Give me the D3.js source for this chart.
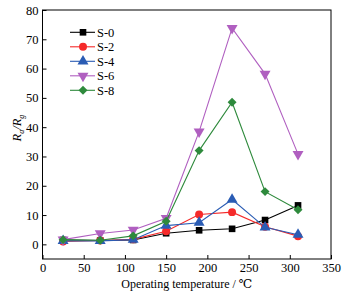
<!DOCTYPE html>
<html lang="en">
<head>
<meta charset="UTF-8">
<title>Response vs temperature</title>
<script src="https://cdn.jsdelivr.net/npm/d3@7"></script>
<style>
	body { margin: 0; background: #fff; }
	svg text { font-family: "Liberation Serif", "DejaVu Serif", "Times New Roman", serif; }
</style>
</head>
<body>
<div id="chart"></div>
<script>
var temps = [25, 70, 110, 150, 190, 230, 270, 310];
var seriesNames = ['S-0', 'S-2', 'S-4', 'S-6', 'S-8'];
var s0 = [1.5, 1.3, 1.5, 3.8, 4.8, 5.3, 8.3, 13.3];
var s2 = [1.0, 1.3, 1.7, 4.5, 10.2, 11.0, 6.0, 2.8];
var s4 = [1.2, 1.2, 1.6, 6.4, 7.4, 15.3, 5.8, 3.3];
var s6 = [1.6, 3.7, 4.9, 8.9, 38.5, 73.8, 58.2, 30.8];
var s8 = [1.6, 1.4, 2.9, 7.9, 32.0, 48.5, 18.0, 11.8];
var xTicks = [0, 50, 100, 150, 200, 250, 300, 350];
var yTicks = [0, 10, 20, 30, 40, 50, 60, 70, 80];

var colors = ['#000000', '#f52a2a', '#2a5cb4', '#b05fc0', '#2e8a3c'];
// diamond = square turned 45 degrees
var symbols = [d3.symbolSquare, d3.symbolCircle, d3.symbolTriangle, d3.symbolTriangle, d3.symbolSquare];
var sizes = [44, 50, 52, 52, 40];
var rotations = [0, 0, 0, 180, 45];
var allSeries = [s0, s2, s4, s6, s8];

var W = 348, H = 299;
var margin = {top: 10, left: 42.5, right: 17, bottom: 40};

var svg = d3.select('#chart').append('svg')
	.attr('width', W).attr('height', H);

var x = d3.scaleLinear().domain([0, 350]).range([margin.left, W - margin.right]);
var y = d3.scaleLinear().domain([-5, 80]).range([H - margin.bottom, margin.top]);

// frame
svg.append('rect')
	.attr('x', x(0)).attr('y', y(80))
	.attr('width', x(350) - x(0)).attr('height', y(-5) - y(80))
	.attr('fill', 'none').attr('stroke', '#000').attr('stroke-width', 1);

var gx = svg.append('g')
	.attr('transform', 'translate(0,' + y(-5) + ')')
	.call(d3.axisBottom(x).tickValues(xTicks).tickSizeInner(-4).tickSizeOuter(0).tickPadding(4));
var gy = svg.append('g')
	.attr('transform', 'translate(' + x(0) + ',0)')
	.call(d3.axisLeft(y).tickValues(yTicks).tickSizeInner(-4).tickSizeOuter(0).tickPadding(4));

[gx, gy].forEach(function (g) {
	g.attr('font-family', null);
	g.select('.domain').remove();
	g.selectAll('text').attr('font-size', 12.5).attr('fill', '#000');
	g.selectAll('line').attr('stroke', '#000');
});

// lines + markers
allSeries.forEach(function (vals, i) {
	var pts = temps.map(function (t, j) { return [t, vals[j]]; });
	svg.append('path')
		.datum(pts)
		.attr('fill', 'none')
		.attr('stroke', colors[i])
		.attr('stroke-width', 1.1)
		.attr('d', d3.line().x(function (d) { return x(d[0]); }).y(function (d) { return y(d[1]); }));
	svg.selectAll('.m' + i)
		.data(pts)
		.enter().append('path')
		.attr('class', 'm' + i)
		.attr('d', d3.symbol().type(symbols[i]).size(sizes[i]))
		.attr('transform', function (d) {
			return 'translate(' + x(d[0]) + ',' + y(d[1]) + ') rotate(' + rotations[i] + ')';
		})
		.attr('fill', colors[i]);
});

// legend
var legend = svg.append('g');
seriesNames.forEach(function (name, i) {
	var ly = 32.3 + i * 14.5;
	legend.append('line')
		.attr('x1', 70).attr('x2', 95).attr('y1', ly).attr('y2', ly)
		.attr('stroke', colors[i]).attr('stroke-width', 1.1);
	legend.append('path')
		.attr('d', d3.symbol().type(symbols[i]).size(sizes[i]))
		.attr('transform', 'translate(83,' + ly + ') rotate(' + rotations[i] + ')')
		.attr('fill', colors[i]);
	legend.append('text')
		.attr('x', 97).attr('y', ly + 4.5)
		.attr('font-size', 12.5)
		.text(name);
});

// axis labels
svg.append('text')
	.attr('x', (x(0) + x(350)) / 2).attr('y', 288)
	.attr('text-anchor', 'middle')
	.attr('font-size', 12)
	.text('Operating temperature / ℃');

var yl = svg.append('text')
	.attr('transform', 'translate(21,' + 128 + ') rotate(-90)')
	.attr('text-anchor', 'middle')
	.attr('font-size', 12.5)
	.attr('font-style', 'italic');
yl.append('tspan').text('R');
yl.append('tspan').attr('font-size', 8).attr('dy', 3).text('a');
yl.append('tspan').attr('dy', -3).text('/R');
yl.append('tspan').attr('font-size', 8).attr('dy', 3).text('g');
</script>
</body>
</html>
